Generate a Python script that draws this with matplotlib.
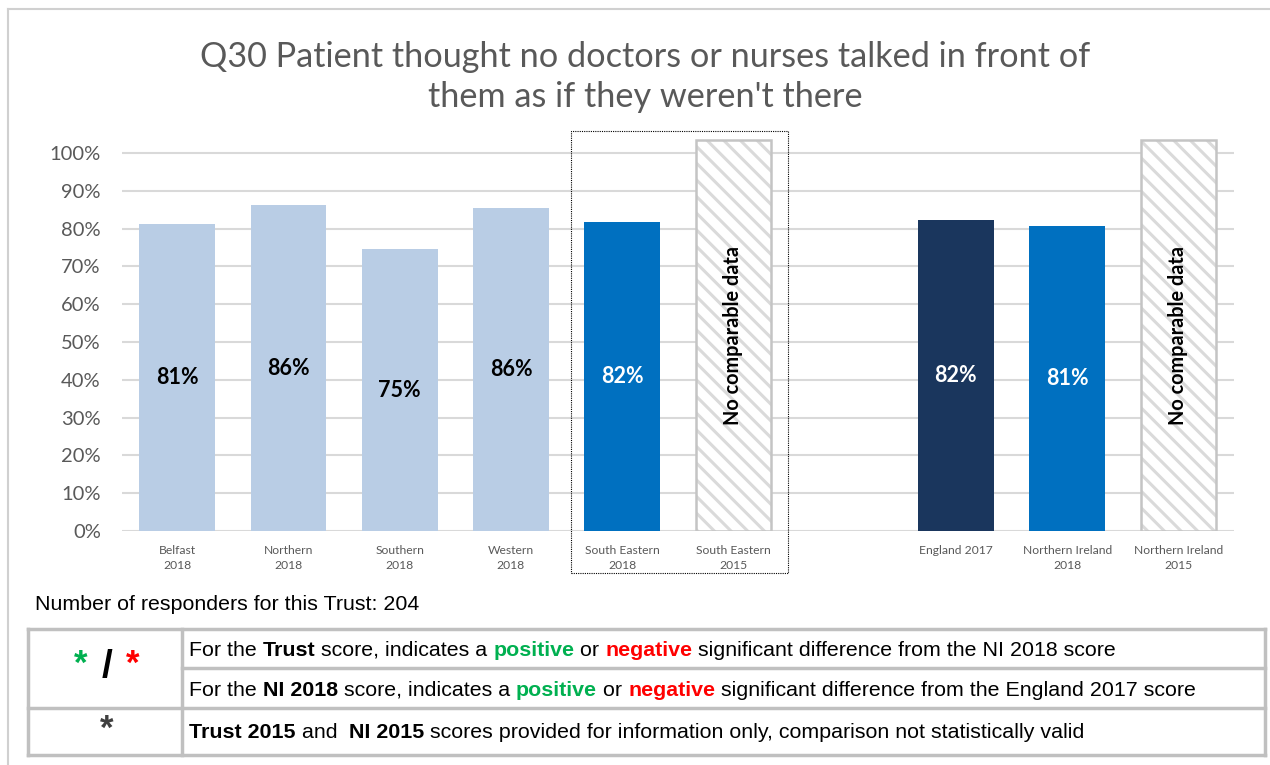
import numpy as np
import matplotlib.pyplot as plt
from matplotlib.patches import Rectangle
from matplotlib.lines import Line2D
import matplotlib.transforms as mtransforms

# ---- donnees ----
categories = ["Belfast\n2018", "Northern\n2018", "Southern\n2018", "Western\n2018",
              "South Eastern\n2018", "South Eastern\n2015", "",
              "England 2017", "Northern Ireland\n2018", "Northern Ireland\n2015"]
labels = ["81%", "86%", "75%", "86%", "82%", None, None, "82%", "81%", None]
# hauteurs
heights = [0.812, 0.862, 0.746, 0.854, 0.817, None, None, 0.823, 0.807, None]
no_data_idx = [5, 9]
no_data_height = 1.034

bar_colors = ["#b9cde5", "#b9cde5", "#b9cde5", "#b9cde5", "#0070c0", None, None,
              "#1a365d", "#0070c0", None]
label_colors = ["black", "black", "black", "black", "white", None, None,
                "white", "white", None]

title = "Q30 Patient thought no doctors or nurses talked in front of\nthem as if they weren't there"
responders = "Number of responders for this Trust: 204"

W, H = 1270, 765
fig = plt.figure(figsize=(W / 100, H / 100), dpi=100)

def fx(px):
    return px / W

def fy(py):
    return 1 - py / H

# axes : 0% a y=531, 100% a y=153
y0, y100 = 531, 153
ymax = 1.06
top_px = y0 - ymax * (y0 - y100)
ax = fig.add_axes([fx(121.6), fy(y0), fx(1234) - fx(121.6), (y0 - top_px) / H])

x = np.arange(len(categories))
plt.rcParams['hatch.linewidth'] = 2.2

for i in range(len(categories)):
    if heights[i] is not None:
        ax.bar(x[i], heights[i], width=0.68, color=bar_colors[i], zorder=2)
        ax.text(x[i], heights[i] / 2, labels[i], ha="center", va="center",
                fontsize=15.5, fontweight="bold", color=label_colors[i],
                family="Lato", zorder=3)
for i in no_data_idx:
    ax.bar(x[i], no_data_height, width=0.68, color="white", edgecolor="#dadada",
           hatch="\\\\", linewidth=0, zorder=2)
    ax.bar(x[i], no_data_height, width=0.68, fill=False, edgecolor="#c4c4c4",
           linewidth=1.8, zorder=2)
    ax.text(x[i], no_data_height / 2, "No comparable data", rotation=90,
            ha="center", va="center", fontsize=14.3, fontweight="bold",
            color="black", family="Lato", zorder=3)

ax.set_xlim(-0.5, len(categories) - 0.5)
ax.set_ylim(0, ymax)
ax.set_yticks(np.arange(0, 1.01, 0.1))
ax.set_yticklabels([f"{int(round(v * 100))}%" for v in np.arange(0, 1.01, 0.1)],
                   fontsize=14.5, color="#595959", family="Lato")
ax.set_xticks(x)
ax.set_xticklabels(categories, fontsize=8.7, color="#595959", family="Lato",
                   linespacing=1.45)
ax.tick_params(axis="both", length=0)
ax.tick_params(axis="y", pad=15)
ax.tick_params(axis="x", pad=10)
ax.yaxis.grid(True, color="#d9d9d9", linewidth=1.5, zorder=0)
ax.set_axisbelow(True)
for s in ax.spines.values():
    s.set_visible(False)

# cadre pointille autour de South Eastern
trans = mtransforms.blended_transform_factory(ax.transData, fig.transFigure)
box = Rectangle((3.54, fy(573)), 1.95, fy(131) - fy(573), transform=trans,
                fill=False, edgecolor="black", linestyle=(0, (1, 1)),
                linewidth=0.8, clip_on=False)
fig.add_artist(box)

# titre
fig.text(fx(645), fy(77), title, ha="center", va="center", fontsize=24.7,
         color="#595959", family="Lato", linespacing=1.3)

# bordure du graphique
fig.add_artist(Line2D([fx(8), fx(8)], [fy(9), 0], color="#d0d0d0", linewidth=1.5))
fig.add_artist(Line2D([fx(8), 1], [fy(9), fy(9)], color="#d0d0d0", linewidth=1.5))

ff = "Liberation Sans"
fs = 15.4

# texte responders
fig.text(fx(35), fy(605), responders, ha="left", va="center", fontsize=fs,
         family=ff, color="black")

# ---- tableau de legende ----
gc = "#c0c0c0"
lw = 2.5
tl, tr, tc = 28, 1265, 182
tt, tm, tmid, tb = 629, 708, 668, 755
for (xa, ya, xb, yb) in [(tl, tt, tr, tt), (tl, tb, tr, tb), (tl, tm, tr, tm),
                         (tc, tmid, tr, tmid), (tl, tt, tl, tb), (tr, tt, tr, tb),
                         (tc, tt, tc, tb)]:
    fig.add_artist(Line2D([fx(xa), fx(xb)], [fy(ya), fy(yb)], color=gc,
                          linewidth=lw, solid_capstyle="projecting"))

green, red = "#00b050", "#ff0000"

# symboles colonne gauche
fig.text(fx(81), fy(664), "*", ha="center", va="center", fontsize=25,
         fontweight="bold", color=green, family=ff)
fig.text(fx(107), fy(667), "/", ha="center", va="center", fontsize=28,
         fontweight="bold", color="black", family=ff)
fig.text(fx(133), fy(664), "*", ha="center", va="center", fontsize=25,
         fontweight="bold", color=red, family=ff)
fig.text(fx(107), fy(729), "*", ha="center", va="center", fontsize=25,
         fontweight="bold", color="#404040", family=ff)

def rich_line(xp, yp, parts, size=fs):
    """ecrit une ligne de texte composee de morceaux colores / gras"""
    renderer = fig.canvas.get_renderer()
    xcur = fx(xp)
    for txt, col, wt in parts:
        t = fig.text(xcur, fy(yp), txt, ha="left", va="center", fontsize=size,
                     color=col, fontweight=wt, family=ff)
        bb = t.get_window_extent(renderer=renderer)
        xcur += bb.width / W

rich_line(189, 650, [("For the ", "black", "normal"), ("Trust", "black", "bold"),
                     (" score, indicates a ", "black", "normal"),
                     ("positive", green, "bold"), (" or ", "black", "normal"),
                     ("negative", red, "bold"),
                     (" significant difference from the NI 2018 score", "black", "normal")])
rich_line(189, 690, [("For the ", "black", "normal"), ("NI 2018", "black", "bold"),
                     (" score, indicates a ", "black", "normal"),
                     ("positive", green, "bold"), (" or ", "black", "normal"),
                     ("negative", red, "bold"),
                     (" significant difference from the England 2017 score", "black", "normal")])
rich_line(189, 733, [("Trust 2015", "black", "bold"), (" and  ", "black", "normal"),
                     ("NI 2015", "black", "bold"),
                     (" scores provided for information only, comparison not statistically valid",
                      "black", "normal")])

fig.savefig("out.png", dpi=100)
